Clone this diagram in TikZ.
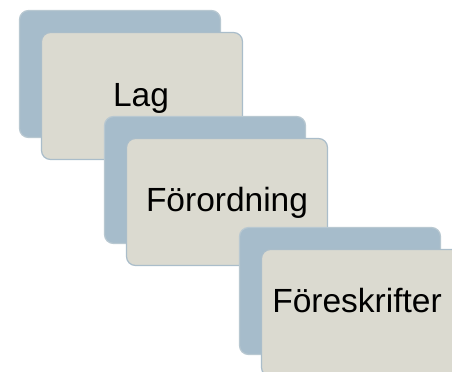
\documentclass[tikz,border=0pt]{standalone}
\usepackage{fontspec}
\setmainfont{Liberation Sans}
\definecolor{backblue}{HTML}{A6BCCB}
\definecolor{backedge}{HTML}{B8C8D1}
\definecolor{frontfill}{HTML}{DBDAD0}
\definecolor{frontedge}{HTML}{AABDCA}
\tikzset{
  backcard/.style={draw=backedge, fill=backblue, line width=1.2bp, rounded corners=9bp,
    minimum width=201bp, minimum height=127bp, inner sep=0pt, outer sep=0pt},
  frontcard/.style={draw=frontedge, fill=frontfill, line width=1.2bp, rounded corners=9bp,
    minimum width=201bp, minimum height=127bp, inner sep=0pt, outer sep=0pt},
  label/.style={anchor=base, inner sep=0pt, font=\fontsize{33.5bp}{40bp}\selectfont, text=black}
}
\begin{document}
\begin{tikzpicture}[x=1bp,y=-1bp]
\useasboundingbox (0,0) rectangle (452,371);
\clip (0,0) rectangle (452,371);
\node[backcard] (b1) at (120,74) {};
\node[frontcard] (f1) at (142,96) {};
\node[label] (t1) at (141,106) {Lag};
\node[backcard] (b2) at (205,180) {};
\node[frontcard] (f2) at (227,202) {};
\node[label] (t2) at (227,211) {Förordning};
\node[backcard] (b3) at (340,291) {};
\node[frontcard] (f3) at (362,313) {};
\node[label] (t3) at (357,312) {Föreskrifter};
\end{tikzpicture}
\end{document}
